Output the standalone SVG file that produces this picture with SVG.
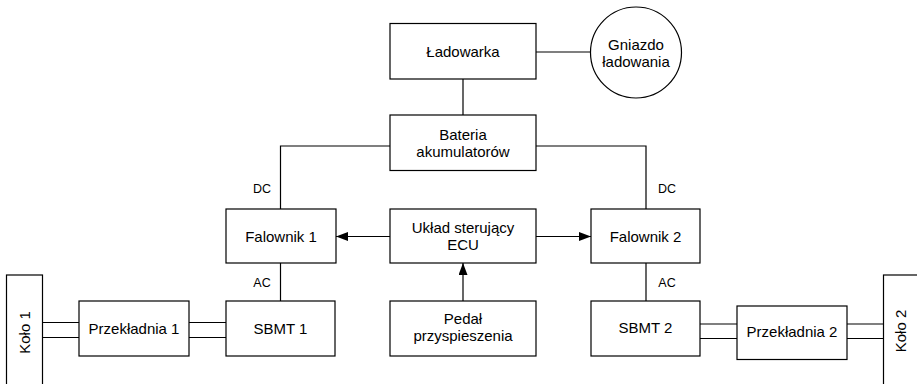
<svg xmlns="http://www.w3.org/2000/svg" width="917" height="384" viewBox="0 0 917 384">
<style>
.box{fill:#fff;stroke:#000;stroke-width:1.2}
.ln{fill:none;stroke:#000;stroke-width:1.2}
text{font-family:"Liberation Sans",Arial,sans-serif;font-size:15px;fill:#000;text-anchor:middle}
.sm{font-size:12.5px}
</style>
<defs>
<marker id="arr" markerWidth="12" markerHeight="9" refX="12" refY="4.5" orient="auto" markerUnits="userSpaceOnUse">
<path d="M0,0 L12,4.5 L0,9 Z" fill="#000"/>
</marker>
</defs>
<rect width="917" height="384" fill="#fff"/>
<g id="connectors">
<line class="ln" x1="536" y1="52" x2="590" y2="52"/>
<line class="ln" x1="463" y1="79" x2="463" y2="115"/>
<polyline class="ln" points="390,146 280.5,146 280.5,209"/>
<polyline class="ln" points="536,146 646,146 646,209"/>
<line class="ln" x1="280.5" y1="263" x2="280.5" y2="301"/>
<line class="ln" x1="646" y1="263" x2="646" y2="301"/>
<line class="ln" x1="390" y1="236.5" x2="336" y2="236.5" marker-end="url(#arr)"/>
<line class="ln" x1="536" y1="236.5" x2="591" y2="236.5" marker-end="url(#arr)"/>
<line class="ln" x1="463" y1="301" x2="463" y2="263" marker-end="url(#arr)"/>
<line class="ln" x1="42.5" y1="322.5" x2="79" y2="322.5"/>
<line class="ln" x1="42.5" y1="337.5" x2="79" y2="337.5"/>
<line class="ln" x1="189" y1="322.5" x2="226" y2="322.5"/>
<line class="ln" x1="189" y1="337.5" x2="226" y2="337.5"/>
<line class="ln" x1="700" y1="324" x2="737" y2="324"/>
<line class="ln" x1="700" y1="338.5" x2="737" y2="338.5"/>
<line class="ln" x1="847" y1="324" x2="883.5" y2="324"/>
<line class="ln" x1="847" y1="338.5" x2="883.5" y2="338.5"/>
<text class="sm" x="262" y="192.5">DC</text>
<text class="sm" x="667" y="192.5">DC</text>
<text class="sm" x="262" y="286.5">AC</text>
<text class="sm" x="667" y="286.5">AC</text>
</g>
<g id="ladowarka">
<rect class="box" x="390" y="23.5" width="146" height="55.5"/>
<text x="463" y="57">Ładowarka</text>
</g>
<g id="gniazdo">
<circle class="box" cx="636" cy="52.5" r="45.5"/>
<text x="636" y="49.5">Gniazdo</text>
<text x="636" y="66.5">ładowania</text>
</g>
<g id="bateria">
<rect class="box" x="390" y="115" width="146" height="55.5"/>
<text x="463" y="139.5">Bateria</text>
<text x="463" y="156.5">akumulatorów</text>
</g>
<g id="falownik1">
<rect class="box" x="226" y="209" width="110" height="54"/>
<text x="281" y="241.5">Falownik 1</text>
</g>
<g id="ecu">
<rect class="box" x="390" y="209" width="146" height="54"/>
<text x="463" y="232.5">Układ sterujący</text>
<text x="463" y="250">ECU</text>
</g>
<g id="falownik2">
<rect class="box" x="591" y="209" width="109" height="54"/>
<text x="645.5" y="241.5">Falownik 2</text>
</g>
<g id="sbmt1">
<rect class="box" x="226" y="301" width="109" height="55"/>
<text x="280.5" y="333.5">SBMT 1</text>
</g>
<g id="pedal">
<rect class="box" x="390" y="301" width="146" height="55"/>
<text x="463" y="323.5">Pedał</text>
<text x="463" y="341">przyspieszenia</text>
</g>
<g id="sbmt2">
<rect class="box" x="591" y="301" width="109" height="55"/>
<text x="645.5" y="333">SBMT 2</text>
</g>
<g id="przekladnia1">
<rect class="box" x="79" y="301" width="110" height="55"/>
<text x="134" y="333.5">Przekładnia 1</text>
</g>
<g id="przekladnia2">
<rect class="box" x="737" y="306" width="110" height="53.5"/>
<text x="792" y="336.5">Przekładnia 2</text>
</g>
<g id="kolo1">
<rect class="box" x="6.5" y="275" width="36" height="130"/>
<text transform="translate(30,332.5) rotate(-90)">Koło 1</text>
</g>
<g id="kolo2">
<rect class="box" x="883.5" y="275" width="36" height="130"/>
<text transform="translate(906,331) rotate(-90)">Koło 2</text>
</g>
</svg>
